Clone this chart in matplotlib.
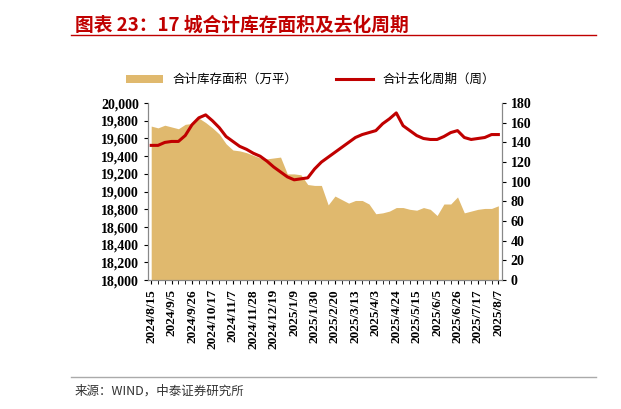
import matplotlib.pyplot as plt
import numpy as np
import pandas as pd

plt.rcParams['font.family'] = ['Noto Sans CJK SC', 'DejaVu Sans']

dates = pd.date_range('2024-08-15', periods=52, freq='7D')
labels = ['{}/{}/{}'.format(d.year, d.month, d.day) for d in dates]
area = [19740, 19720, 19750, 19730, 19710, 19760, 19770, 19830, 19780, 19720,
        19650, 19540, 19470, 19460, 19440, 19410, 19380, 19370, 19380, 19390,
        19200, 19200, 19190, 19080, 19070, 19070, 18850, 18950, 18910, 18870,
        18900, 18900, 18860, 18750, 18760, 18780, 18820, 18820, 18800, 18790,
        18820, 18800, 18730, 18860, 18860, 18940, 18760, 18780, 18800, 18810,
        18810, 18840]
cycle = [137, 137, 140, 141, 141, 147, 158, 165, 168, 162, 155, 146, 141, 136,
         133, 129, 126, 121, 115, 110, 105, 102, 103, 104, 113, 120, 125, 130,
         135, 140, 145, 148, 150, 152, 159, 164, 170, 157, 152, 147, 144, 143,
         143, 146, 150, 152, 145, 143, 144, 145, 148, 148]

fig = plt.figure(figsize=(6.21, 4.09), dpi=100)
ax = fig.add_axes([0.238, 0.315, 0.57, 0.433])
x = np.arange(len(area))
ax.fill_between(x, 18000, area, color='#e0b96e', lw=0, label='合计库存面积（万平）')
ax.set_ylim(18000, 20000)
ax.set_yticks(range(18000, 20001, 200))
ax.set_yticklabels(['{:,}'.format(v) for v in range(18000, 20001, 200)],
                   family='Liberation Serif', fontweight='bold', fontsize=10)
ax.set_xlim(-0.5, len(area) - 0.5)
ax.set_xticks(x[::3])
ax.set_xticklabels(labels[::3], rotation=90, family='Liberation Serif',
                   fontweight='bold', fontsize=9.5)
ax.set_xticks(x, minor=True)
ax2 = ax.twinx()
ax2.plot(x, cycle, color='#c00000', lw=2.2, label='合计去化周期（周）')
ax2.set_ylim(0, 180)
ax2.set_yticks(range(0, 181, 20))
ax2.set_yticklabels([str(v) for v in range(0, 181, 20)],
                    family='Liberation Serif', fontweight='bold', fontsize=10)
for a in (ax, ax2):
    a.spines['top'].set_visible(False)
    for s in a.spines.values():
        s.set_color('#888888')
    a.tick_params(colors='black', length=3, which='both')

h1, l1 = ax.get_legend_handles_labels()
h2, l2 = ax2.get_legend_handles_labels()
fig.legend(h1 + h2, l1 + l2, loc='center', bbox_to_anchor=(0.5, 0.805), ncol=2,
           frameon=False, fontsize=9, columnspacing=3, handlelength=3)

fig.text(0.12, 0.925, '图表 23：17 城合计库存面积及去化周期', color='#c00000',
         fontsize=13.5, fontweight='bold', style='italic')
fig.add_artist(plt.Line2D([0.115, 0.96], [0.915, 0.915], color='#c00000', lw=1))
fig.add_artist(plt.Line2D([0.115, 0.96], [0.078, 0.078], color='#aaaaaa', lw=1))
fig.text(0.12, 0.035, '来源：WIND，中泰证券研究所', fontsize=9, color='#333333')

fig.savefig('out.png', dpi=100)
